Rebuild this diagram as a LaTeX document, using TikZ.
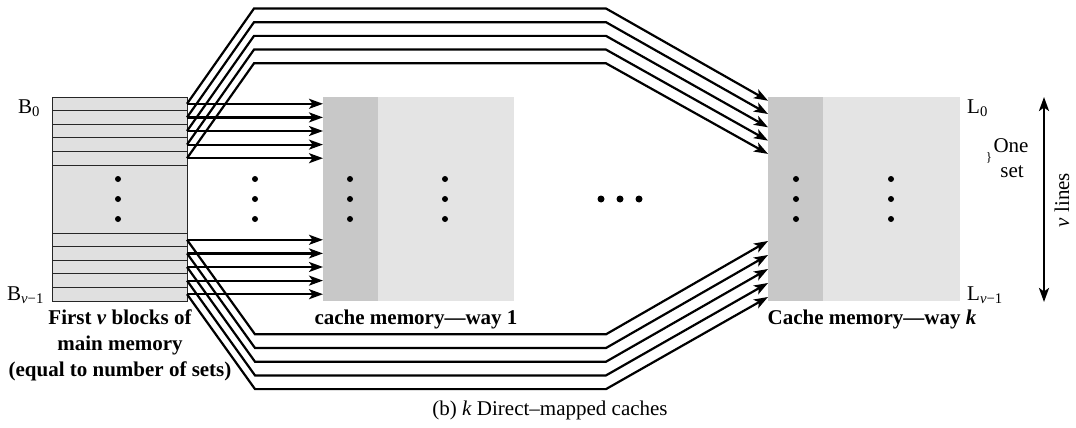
\documentclass[tikz,border=0pt]{standalone}
\usepackage{fontspec}
\setmainfont{Liberation Serif}
\usetikzlibrary{arrows.meta}
\definecolor{memfill}{HTML}{E0E0E0}
\definecolor{cachedark}{HTML}{C8C8C8}
\definecolor{cachelight}{HTML}{E4E4E4}
\begin{document}
\begin{tikzpicture}[x=1pt,y=-1pt,
  conn/.style={line width=2.2pt, line join=miter, -{Stealth[length=14pt,width=10pt,inset=3.5pt]}},
  lbl/.style={font=\fontsize{21}{26}\selectfont\bfseries, inner sep=0pt},
  txt/.style={font=\fontsize{21}{26}\selectfont, inner sep=0pt},
  dot/.style={circle, fill=black, inner sep=0pt, minimum size=6pt},
  cellline/.style={line width=0.9pt, draw=black!85},
  vline/.style={line width=2.5pt, {Stealth[length=14pt,width=10pt,inset=3.5pt]}-{Stealth[length=14pt,width=10pt,inset=3.5pt]}}]
\useasboundingbox (0,0) rectangle (1076,428);

% main memory
\node[fill=memfill, draw=black!85, line width=0.9pt, anchor=north west, inner sep=0pt,
      minimum width=135pt, minimum height=204pt] (mem) at (52,97) {};
\foreach \i in {1,...,5} {
  \draw[cellline] (52,{97+13.6*\i}) -- (187,{97+13.6*\i});
}
\foreach \i in {0,...,4} {
  \draw[cellline] (52,{233+13.6*\i}) -- (187,{233+13.6*\i});
}
\node[dot] (md1) at (118,179) {};
\node[dot] (md2) at (118,199) {};
\node[dot] (md3) at (118,219) {};

% cache way 1
\node[fill=cachelight, anchor=north west, inner sep=0pt,
      minimum width=191pt, minimum height=204pt] (c1) at (323,97) {};
\fill[cachedark] (323,97) rectangle (378,301);
\node[dot] (c1a) at (350,179) {};
\node[dot] (c1b) at (350,199) {};
\node[dot] (c1c) at (350,219) {};
\node[dot] (c1d) at (445,179) {};
\node[dot] (c1e) at (445,199) {};
\node[dot] (c1f) at (445,219) {};

% cache way k
\node[fill=cachelight, anchor=north west, inner sep=0pt,
      minimum width=192pt, minimum height=204pt] (ck) at (768,97) {};
\fill[cachedark] (768,97) rectangle (823,301);
\node[dot] (cka) at (796,179) {};
\node[dot] (ckb) at (796,199) {};
\node[dot] (ckc) at (796,219) {};
\node[dot] (ckd) at (891,179) {};
\node[dot] (cke) at (891,199) {};
\node[dot] (ckf) at (891,219) {};

% dots between
\node[dot] (gd1) at (255,179) {};
\node[dot] (gd2) at (255,199) {};
\node[dot] (gd3) at (255,219) {};
\node[dot, minimum size=7pt] (hd1) at (601,199) {};
\node[dot, minimum size=7pt] (hd2) at (620,199) {};
\node[dot, minimum size=7pt] (hd3) at (639,199) {};

% endpoints
\foreach \i in {0,...,4} {
  \coordinate (t\i) at (187,{103.8+13.6*\i});
  \coordinate (b\i) at (187,{239.8+13.6*\i});
  \coordinate (at\i) at (323,{103.8+13.6*\i});
  \coordinate (ab\i) at (323,{239.8+13.6*\i});
  \coordinate (kt\i) at (768,{100.7+13.3*\i});
  \coordinate (kb\i) at (768,{241+14*\i});
  \coordinate (ut\i) at (254,{8.5+13.7*\i});
  \coordinate (vt\i) at (606,{8.5+13.7*\i});
  \coordinate (ub\i) at (255,{334.3+13.7*\i});
  \coordinate (vb\i) at (606,{334.3+13.7*\i});
}
\foreach \i in {0,...,4} {
  \draw[conn] (t\i) -- (at\i);
  \draw[conn] (b\i) -- (ab\i);
  \draw[conn] (t\i) -- (ut\i) -- (vt\i) -- (kt\i);
  \draw[conn] (b\i) -- (ub\i) -- (vb\i) -- (kb\i);
}

% labels
\node[txt, anchor=base west] (B0) at (18,113) {B\textsubscript{0}};
\node[txt, anchor=base west] (Bv) at (7,300) {B\textsubscript{\textit{v}−1}};
\node[txt, anchor=base west] (L0) at (967,113) {L\textsubscript{0}};
\node[txt, anchor=base west] (Lv) at (967,300) {L\textsubscript{\textit{v}−1}};
\node[txt, anchor=base] (one) at (1011,152) {One};
\node[txt, anchor=base] (set) at (1012,177) {set};
\node[font=\fontsize{13}{13}\selectfont, inner sep=0pt] (brace) at (989,158) {\}};
\coordinate (vtop) at (1044,97);
\coordinate (vbot) at (1044,302);
\draw[vline] (vtop) -- (vbot);
\node[txt, rotate=90] (vl) at (1062,200) {\textit{v} lines};

\node[lbl, anchor=base] (m1) at (120,324) {First \textit{v} blocks of};
\node[lbl, anchor=base] (m2) at (120,350) {main memory};
\node[lbl, anchor=base] (m3) at (120,376) {(equal to number of sets)};
\node[lbl, anchor=base] (c1l) at (416,324) {cache memory—way 1};
\node[lbl, anchor=base] (ckl) at (872,324) {Cache memory—way \textit{k}};
\node[txt, anchor=base] (cap) at (550,415) {(b) \textit{k} Direct–mapped caches};
\end{tikzpicture}
\end{document}
